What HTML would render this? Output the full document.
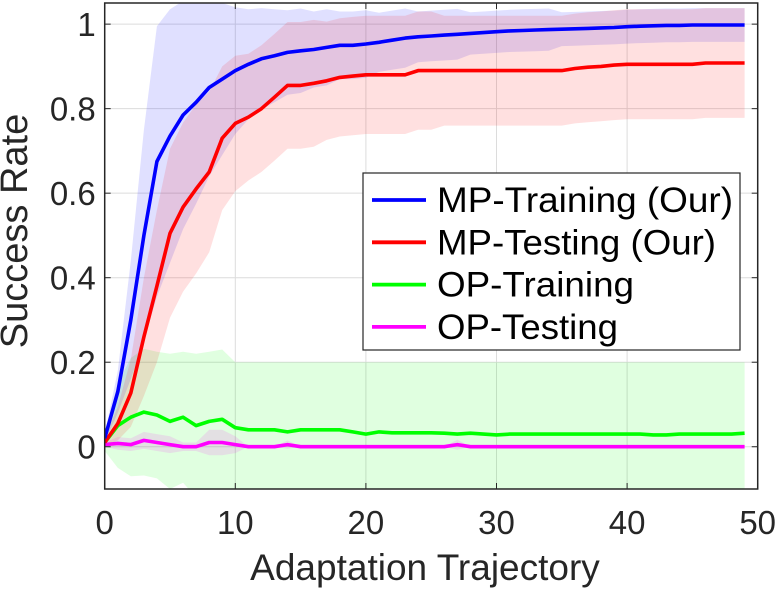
<!DOCTYPE html>
<html><head><meta charset="utf-8"><style>
body{margin:0;background:#fff;}
svg{display:block;font-family:"Liberation Sans",Arial,sans-serif;}
</style></head><body>
<svg id="chart" width="779" height="589" viewBox="0 0 779 589"></svg>
<script>
const xs = Array.from({length:50},(_,i)=>i);
const mpTrain = [0.02,0.13,0.30,0.50,0.675,0.735,0.785,0.815,0.85,0.87,0.89,0.905,0.918,0.925,0.933,0.937,0.94,0.945,0.95,0.95,0.953,0.957,0.962,0.967,0.97,0.972,0.974,0.976,0.978,0.98,0.982,0.984,0.985,0.986,0.987,0.988,0.989,0.99,0.991,0.992,0.994,0.995,0.996,0.997,0.997,0.998,0.998,0.998,0.998,0.998];
const mpTrainStd = [0.01,0.05,0.14,0.25,0.32,0.3,0.27,0.24,0.21,0.18,0.15,0.13,0.12,0.11,0.1,0.1,0.09,0.09,0.08,0.08,0.08,0.07,0.07,0.07,0.06,0.06,0.06,0.06,0.05,0.05,0.05,0.05,0.05,0.05,0.05,0.04,0.04,0.04,0.04,0.04,0.04,0.04,0.04,0.04,0.04,0.04,0.04,0.04,0.04,0.04];
const mpTestStd = [0.01,0.04,0.08,0.14,0.18,0.2,0.2,0.2,0.19,0.17,0.16,0.15,0.15,0.15,0.15,0.15,0.15,0.14,0.14,0.14,0.14,0.14,0.14,0.14,0.14,0.14,0.13,0.13,0.13,0.13,0.13,0.13,0.13,0.13,0.13,0.13,0.13,0.13,0.13,0.13,0.13,0.13,0.13,0.13,0.13,0.13,0.13,0.13,0.13,0.13];
const mpTest = [0.01,0.055,0.127,0.26,0.38,0.505,0.567,0.61,0.65,0.73,0.765,0.78,0.80,0.827,0.855,0.855,0.86,0.866,0.874,0.877,0.88,0.88,0.88,0.88,0.89,0.89,0.89,0.89,0.89,0.89,0.89,0.89,0.89,0.89,0.89,0.89,0.895,0.898,0.9,0.903,0.905,0.905,0.905,0.905,0.905,0.905,0.908,0.908,0.908,0.908];
const opTrain = [0.01,0.05,0.07,0.082,0.075,0.06,0.07,0.05,0.06,0.065,0.045,0.04,0.04,0.04,0.035,0.04,0.04,0.04,0.04,0.035,0.03,0.035,0.033,0.033,0.033,0.033,0.032,0.03,0.032,0.03,0.028,0.03,0.03,0.03,0.03,0.03,0.03,0.03,0.03,0.03,0.03,0.03,0.028,0.028,0.03,0.03,0.03,0.03,0.03,0.032];
const opTrainStd = [0.02,0.1,0.14,0.15,0.15,0.16,0.155,0.17,0.165,0.165,0.155,0.16,0.16,0.16,0.165,0.16,0.16,0.16,0.16,0.165,0.17,0.165,0.167,0.167,0.167,0.167,0.168,0.17,0.168,0.17,0.172,0.17,0.17,0.17,0.17,0.17,0.17,0.17,0.17,0.17,0.17,0.17,0.172,0.172,0.17,0.17,0.17,0.17,0.17,0.168];
const opTest = [0.005,0.008,0.005,0.015,0.01,0.005,0,0,0.01,0.01,0.005,0,0,0,0.005,0,0,0,0,0,0,0,0,0,0,0,0,0.005,0,0,0,0,0,0,0,0,0,0,0,0,0,0,0,0,0,0,0,0,0,0];
const opTestStd = [0.005,0.015,0.015,0.02,0.02,0.02,0.01,0.01,0.03,0.03,0.02,0,0,0,0.01,0,0,0,0,0,0,0,0,0,0,0,0,0.012,0,0,0,0,0,0,0,0,0,0,0,0,0,0,0,0,0,0,0,0,0,0];
const xTicks = [0,10,20,30,40,50];
const yTicks = [0,0.2,0.4,0.6,0.8,1];
const yTickLabels = ["0","0.2","0.4","0.6","0.8","1"];
const seriesNames = ["MP-Training (Our)","MP-Testing (Our)","OP-Training","OP-Testing"];

const L=104.7,R=757.7,T=3,B=489,X0=0,X1=50,Y0=-0.1,Y1=1.05;
const sx=v=>L+(v-X0)/(X1-X0)*(R-L);
const sy=v=>B-(v-Y0)/(Y1-Y0)*(B-T);
const NS="http://www.w3.org/2000/svg";
const svg=document.getElementById('chart');
function mk(tag,attrs,parent){const e=document.createElementNS(NS,tag);for(const k in attrs)e.setAttribute(k,attrs[k]);(parent||svg).appendChild(e);return e;}

const defs=mk('defs',{});
const cp=mk('clipPath',{id:'clip'},defs);
mk('rect',{x:L,y:T,width:R-L,height:B-T},cp);

const grid=mk('g',{});


xTicks.forEach(t=>{const l=mk('line',{x1:sx(t),x2:sx(t),y1:T,y2:B,stroke:'#dcdcdc','stroke-width':1},grid);});
yTicks.forEach(t=>{const l=mk('line',{x1:L,x2:R,y1:sy(t),y2:sy(t),stroke:'#dcdcdc','stroke-width':1},grid);});

const plot=mk('g',{'clip-path':'url(#clip)'});
function band(mean,std,color,name){
  let d='';
  xs.forEach((x,i)=>{d+=(i?'L':'M')+sx(x).toFixed(1)+','+sy(mean[i]+std[i]).toFixed(1);});
  for(let i=xs.length-1;i>=0;i--)d+='L'+sx(xs[i]).toFixed(1)+','+sy(mean[i]-std[i]).toFixed(1);
  const p=mk('path',{d:d+'Z',fill:color,'fill-opacity':0.12,stroke:'none'},plot);
  
  
}
function line(mean,color,name){
  const d=xs.map((x,i)=>(i?'L':'M')+sx(x).toFixed(1)+','+sy(mean[i]).toFixed(1)).join('');
  const p=mk('path',{d:d,fill:'none',stroke:color,'stroke-width':3.6,'stroke-linejoin':'round'},plot);
  
  
}
band(opTrain,opTrainStd,'#00ff00','op-training-band');
band(mpTrain,mpTrainStd,'#0000ff','mp-training-band');
band(mpTest,mpTestStd,'#ff0000','mp-testing-band');
band(opTest,opTestStd,'#ff00ff','op-testing-band');
line(opTrain,'#00ff00','op-training-line');
line(opTest,'#ff00ff','op-testing-line');
line(mpTest,'#ff0000','mp-testing-line');
line(mpTrain,'#0000ff','mp-training-line');

const box=mk('rect',{x:L,y:T,width:R-L,height:B-T,fill:'none',stroke:'#262626','stroke-width':1.5});


xTicks.forEach(t=>{
  mk('line',{x1:sx(t),x2:sx(t),y1:B,y2:B-6,stroke:'#262626'});
  mk('line',{x1:sx(t),x2:sx(t),y1:T,y2:T+6,stroke:'#262626'});
  const tx=mk('text',{x:sx(t),y:B+45,'text-anchor':'middle','font-size':33,fill:'#262626'});
  tx.textContent=t;
  
  
});
yTicks.forEach((t,i)=>{
  mk('line',{x1:L,x2:L+6,y1:sy(t),y2:sy(t),stroke:'#262626'});
  mk('line',{x1:R,x2:R-6,y1:sy(t),y2:sy(t),stroke:'#262626'});
  const tx=mk('text',{x:L-9,y:sy(t)+12,'text-anchor':'end','font-size':33,fill:'#262626'});
  tx.textContent=yTickLabels[i];
  
  
});
const xl=mk('text',{x:425,y:580,'text-anchor':'middle','font-size':37,fill:'#262626'});
xl.textContent='Adaptation Trajectory';


const yl=mk('text',{x:0,y:0,'text-anchor':'middle','font-size':38,fill:'#262626',transform:'translate(27,231) rotate(-90)'});
yl.textContent='Success Rate';



const lg=mk('g',{});


mk('rect',{x:363,y:173,width:377,height:177,fill:'#fff',stroke:'#262626','stroke-width':1.2},lg);
const colors=['#0000ff','#ff0000','#00ff00','#ff00ff'];
const lens=[296,279,197,181];
seriesNames.forEach((n,i)=>{
  const y=200+i*42.3;
  const g=mk('g',{},lg);
  
  
  mk('line',{x1:372,x2:426,y1:y,y2:y,stroke:colors[i],'stroke-width':3.8},g);
  const t=mk('text',{x:437,y:y+12,'font-size':35,fill:'#000',textLength:lens[i],lengthAdjust:'spacingAndGlyphs'},g);
  t.textContent=n;
});
</script>
</body></html>
